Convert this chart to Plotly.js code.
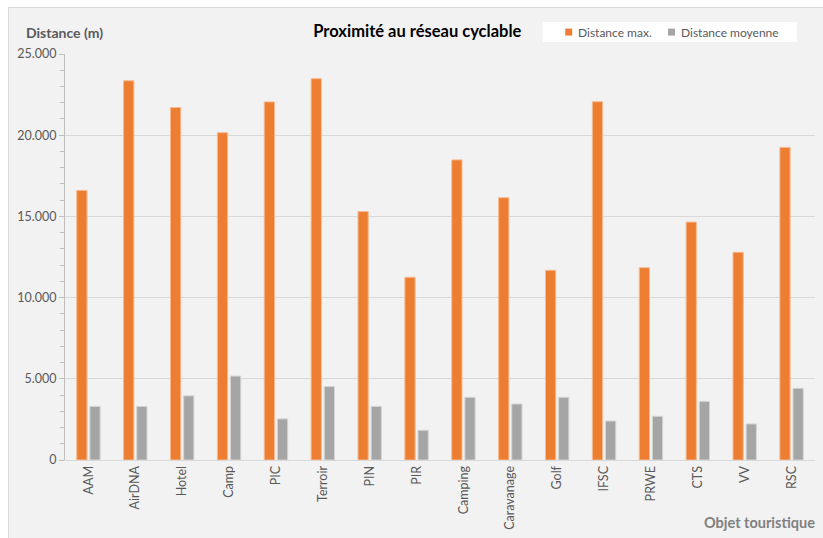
<!DOCTYPE html>
<html>
<head>
<meta charset="utf-8">
<script src="https://cdn.plot.ly/plotly-3.0.1.min.js"></script>
<style>
  html, body { margin: 0; padding: 0; background: #ffffff; }
  #box { position: absolute; left: 8px; top: 7px; width: 815px; height: 531px;
         border-left: 1px solid #d9d9d9; border-top: 1px solid #d9d9d9; background: #f2f2f2; }
  #chart { width: 815px; height: 531px; }
</style>
</head>
<body>
<div id="box"><div id="chart"></div></div>
<script>
const categories = ["AAM", "AirDNA", "Hotel", "Camp", "PIC", "Terroir", "PIN", "PIR",
  "Camping", "Caravanage", "Golf", "IFSC", "PRWE", "CTS", "VV", "RSC"];
const distanceMax = [16600, 23350, 21700, 20150, 22050, 23480, 15300, 11250,
  18480, 16150, 11680, 22060, 11840, 14650, 12790, 19250];
const distanceMoyenne = [3300, 3300, 3950, 5170, 2530, 4520, 3300, 1830,
  3860, 3450, 3860, 2400, 2690, 3610, 2220, 4410];
const seriesNames = ["Distance max.", "Distance moyenne"];
const seriesColors = ["#ed7d31", "#a5a5a5"];
const yTicks = [0, 5000, 10000, 15000, 20000, 25000];

const FONT = "Lato, 'Open Sans', sans-serif";
const traces = [
  { type: "bar", name: seriesNames[0], x: categories, y: distanceMax,
    marker: { color: seriesColors[0], line: { color: "#f6b98e", width: 1 } } },
  { type: "bar", name: seriesNames[1], x: categories, y: distanceMoyenne,
    marker: { color: seriesColors[1], line: { color: "#d4d4d4", width: 1 } } }
];

// custom legend (box, swatches, labels) placed in paper coordinates
const legendBox = { x0: 0.637, x1: 0.976, y0: 1.0296, y1: 1.0788 };
const legendItems = [
  { sx: 0.667, tx: 0.681 },
  { sx: 0.804, tx: 0.818 }
];
const legendY = 1.054, swH = 0.0086, swW = 0.0093;

const shapes = [
  { type: "rect", xref: "paper", yref: "paper", x0: legendBox.x0, x1: legendBox.x1,
    y0: legendBox.y0, y1: legendBox.y1, fillcolor: "#ffffff", line: { width: 0 }, layer: "above" }
];
const annotations = [
  { text: "<b>Distance (m)</b>", xref: "paper", yref: "paper", x: -0.0547, y: 1.054,
    xanchor: "left", yanchor: "middle", showarrow: false,
    font: { family: FONT, size: 14, color: "#595959" } },
  { text: "<b>Objet touristique</b>", xref: "paper", yref: "paper", x: 1.0027, y: -0.153,
    xanchor: "right", yanchor: "middle", showarrow: false,
    font: { family: FONT, size: 14.5, color: "#808080" } }
];
legendItems.forEach((it, i) => {
  shapes.push({ type: "rect", xref: "paper", yref: "paper", x0: it.sx, x1: it.sx + swW,
    y0: legendY - swH, y1: legendY + swH, fillcolor: seriesColors[i], line: { width: 0 }, layer: "above" });
  annotations.push({ text: seriesNames[i], xref: "paper", yref: "paper", x: it.tx, y: legendY,
    xanchor: "left", yanchor: "middle", showarrow: false,
    font: { family: FONT, size: 12, color: "#595959" } });
});

const layout = {
  width: 815, height: 531,
  margin: { l: 56, r: 9, t: 46, b: 79 },
  paper_bgcolor: "#f2f2f2", plot_bgcolor: "#f2f2f2",
  font: { family: FONT, size: 12, color: "#595959" },
  separators: ",.",
  barmode: "group", bargap: 0.44, bargroupgap: 0.22,
  title: { text: "<b>Proximité au réseau cyclable</b>", font: { family: FONT, size: 16.5, color: "#000000" },
           x: 0.331, xref: "paper", xanchor: "left", y: 1.064, yref: "paper", yanchor: "middle",
           pad: { b: 0, t: 0 }, automargin: false },
  showlegend: false,
  xaxis: { type: "category", tickangle: -90, showline: true, linecolor: "#d9d9d9", linewidth: 1,
           ticks: "", showgrid: false, tickfont: { family: FONT, size: 12.5, color: "#595959" },
           automargin: false },
  yaxis: { range: [0, 25000], tickvals: yTicks, tickformat: ",d", showline: true, linecolor: "#bfbfbf",
           linewidth: 1, ticks: "outside", ticklen: 5, tickcolor: "#bfbfbf", gridcolor: "#d9d9d9",
           zeroline: false, tickfont: { family: FONT, size: 12.5, color: "#595959" }, automargin: false,
           minor: { dtick: 1000, ticks: "outside", ticklen: 4, tickcolor: "#bfbfbf", showgrid: false } },
  shapes: shapes,
  annotations: annotations
};
Plotly.newPlot("chart", traces, layout, { displayModeBar: false, staticPlot: true });
</script>
</body>
</html>
